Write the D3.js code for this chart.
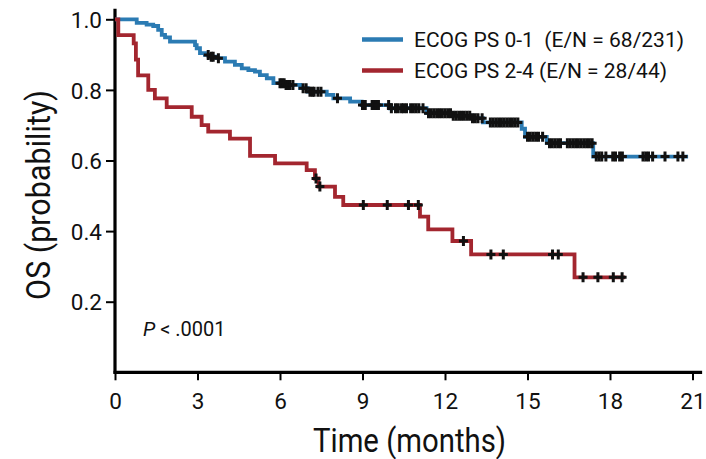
<!DOCTYPE html>
<html lang="en">
<head>
<meta charset="utf-8">
<title>OS by ECOG PS</title>
<script src="https://cdnjs.cloudflare.com/ajax/libs/d3/7.8.5/d3.min.js"></script>
<style>
  body { margin: 0; background: #fff; }
  svg { display: block; font-family: Roboto, "Liberation Sans", sans-serif; }
</style>
</head>
<body>
<div id="chart"></div>
<script>
const width = 706,
  height = 459;

const groupNames = ['ECOG PS 0-1  (E/N = 68/231)', 'ECOG PS 2-4 (E/N = 28/44)'];
const groupColors = ['#2b7bb3', '#a3262f'];

const xTicks = [0, 3, 6, 9, 12, 15, 18, 21];
const yTicks = [0.2, 0.4, 0.6, 0.8, 1.0];

// ECOG PS 0-1: step times (months) and survival after each step
const blueTimes = [0, 0.79, 1.15, 1.39, 1.57, 1.70, 1.82, 2.0, 2.91, 2.97, 3.09, 3.27, 3.5, 3.7, 4.0, 4.36, 4.61, 4.85, 5.09, 5.27, 5.52, 5.76, 6.2, 6.73, 7.0, 7.7, 7.94, 8.55, 8.97, 10.0, 11.33, 12.3, 13.0, 13.38, 14.79, 14.91, 15.7, 17.39, 20.84];
const blueSurv = [1, 0.990, 0.985, 0.981, 0.970, 0.956, 0.949, 0.937, 0.927, 0.918, 0.904, 0.899, 0.894, 0.890, 0.880, 0.871, 0.861, 0.856, 0.852, 0.842, 0.833, 0.819, 0.814, 0.805, 0.795, 0.786, 0.776, 0.767, 0.757, 0.748, 0.734, 0.727, 0.720, 0.708, 0.690, 0.667, 0.649, 0.611, 0.611];
const blueCensor = [3.39, 3.5, 3.57, 3.76, 6.0, 6.07, 6.15, 6.22, 6.3, 6.36, 6.47, 6.84, 6.95, 7.09, 7.18, 7.24, 7.38, 7.49, 8.09,
  9.0, 9.1, 9.35, 9.42, 9.5, 9.58, 9.95, 10.05, 10.2, 10.3, 10.42, 10.5, 10.6, 10.75, 10.85, 10.95, 11.05, 11.2,
  11.4, 11.5, 11.6, 11.7, 11.8, 11.9, 12.0, 12.1, 12.2, 12.3, 12.4, 12.5, 12.6, 12.7, 12.8, 12.9, 13.0, 13.1, 13.2, 13.35,
  13.65, 13.75, 13.85, 13.95, 14.05, 14.15, 14.25, 14.35, 14.45, 14.55, 14.65, 15.0, 15.1, 15.2, 15.3, 15.4, 15.55,
  15.8, 15.9, 16.0, 16.1, 16.2, 16.45, 16.55, 16.65, 16.75, 16.85, 16.95, 17.05, 17.15, 17.25, 17.35,
  17.5, 17.6, 17.7, 17.85, 18.1, 18.2, 18.35, 18.45, 19.2, 19.3, 19.4, 19.55, 20.0, 20.47, 20.65];

// ECOG PS 2-4
const redTimes = [0, 0.12, 0.68, 0.76, 0.84, 1.21, 1.45, 1.88, 2.79, 3.15, 3.39, 4.18, 4.91, 5.82, 6.97, 7.27, 7.40, 8.0, 8.3, 11.09, 11.39, 12.27, 12.95, 16.71, 18.55];
const redSurv = [1, 0.955, 0.932, 0.886, 0.841, 0.800, 0.776, 0.751, 0.724, 0.700, 0.682, 0.662, 0.613, 0.592, 0.573, 0.549, 0.526, 0.497, 0.474, 0.441, 0.405, 0.372, 0.334, 0.269, 0.269];
const redCensor = [7.31, 7.45, 9.03, 9.9, 10.67, 11.03, 12.67, 13.67, 14.12, 15.91, 16.12, 17.02, 17.56, 18.12, 18.44];

const series = [
  { times: blueTimes, surv: blueSurv, censor: blueCensor },
  { times: redTimes, surv: redSurv, censor: redCensor }
];

const svg = d3.select('#chart')
  .append('svg')
  .attr('width', width)
  .attr('height', height);

const x = d3.scaleLinear().domain([0, 21]).range([115, 692.5]);
const y = d3.scaleLinear().domain([0, 1]).range([372.3, 19.3]);

// axes
const xAxis = svg.append('g')
  .attr('transform', `translate(0,${y(0)})`)
  .call(d3.axisBottom(x).tickValues(xTicks).tickSize(8).tickFormat(d3.format('d')));
xAxis.select('.domain').remove();
xAxis.selectAll('line').attr('stroke', '#000').attr('stroke-width', 2);
xAxis.selectAll('text')
  .attr('font-size', 22.5)
  .attr('fill', '#111')
  .attr('dy', null)
  .attr('y', 37);
xAxis.append('line')
  .attr('x1', x(0) - 1.5).attr('x2', x(21.35))
  .attr('stroke', '#000').attr('stroke-width', 3.2);

const yAxis = svg.append('g')
  .attr('transform', `translate(${x(0)},0)`)
  .call(d3.axisLeft(y).tickValues(yTicks).tickSize(9).tickFormat(d3.format('.1f')));
yAxis.select('.domain').remove();
yAxis.selectAll('line').attr('stroke', '#000').attr('stroke-width', 2);
yAxis.selectAll('text')
  .attr('font-size', 22.5)
  .attr('fill', '#111')
  .attr('x', -13)
  .attr('dy', '0.36em');
yAxis.append('line')
  .attr('y1', y(0) + 1.5).attr('y2', y(1.03))
  .attr('stroke', '#000').attr('stroke-width', 3.2);

svg.selectAll('.tick text').attr('font-family', 'Roboto, sans-serif');

// titles
svg.append('text')
  .attr('x', 409.5)
  .attr('y', 452)
  .attr('text-anchor', 'middle')
  .attr('font-size', 33)
  .attr('fill', '#111')
  .attr('textLength', 193)
  .attr('lengthAdjust', 'spacingAndGlyphs')
  .text('Time (months)');

svg.append('text')
  .attr('transform', 'translate(50,195) rotate(-90)')
  .attr('text-anchor', 'middle')
  .attr('font-size', 33)
  .attr('fill', '#111')
  .attr('textLength', 210)
  .attr('lengthAdjust', 'spacingAndGlyphs')
  .text('OS (probability)');

const ptext = svg.append('text')
  .attr('x', 143)
  .attr('y', 335.7)
  .attr('font-size', 20)
  .attr('fill', '#111');
ptext.append('tspan').attr('font-style', 'italic').text('P');
ptext.append('tspan').text(' < .0001');

// curves
const line = d3.line()
  .x(d => x(d[0]))
  .y(d => y(d[1]))
  .curve(d3.curveStepAfter);

const survAt = (s, t) => {
  const i = d3.bisectRight(s.times, t) - 1;
  return s.surv[Math.max(0, i)];
};

series.forEach((s, k) => {
  svg.append('path')
    .datum(s.times.map((t, i) => [t, s.surv[i]]))
    .attr('d', line)
    .attr('fill', 'none')
    .attr('stroke', groupColors[k])
    .attr('stroke-width', 3.8);
});

series.forEach(s => {
  svg.append('g')
    .selectAll('path')
    .data(s.censor)
    .join('path')
    .attr('transform', d => `translate(${x(d)},${y(survAt(s, d))})`)
    .attr('d', 'M-4.5,0H4.5M0,-5V5')
    .attr('stroke', '#111')
    .attr('stroke-width', 3);
});

// legend
const legend = svg.append('g');
groupNames.forEach((name, i) => {
  const ly = 39.5 + i * 31;
  legend.append('line')
    .attr('x1', 362).attr('x2', 403)
    .attr('y1', ly).attr('y2', ly)
    .attr('stroke', groupColors[i])
    .attr('stroke-width', 4.5);
  legend.append('text')
    .attr('x', 414)
    .attr('y', ly + 7.5)
    .attr('font-size', 21)
    .attr('fill', '#111')
    .style('white-space', 'pre')
    .text(name);
});
</script>
</body>
</html>
